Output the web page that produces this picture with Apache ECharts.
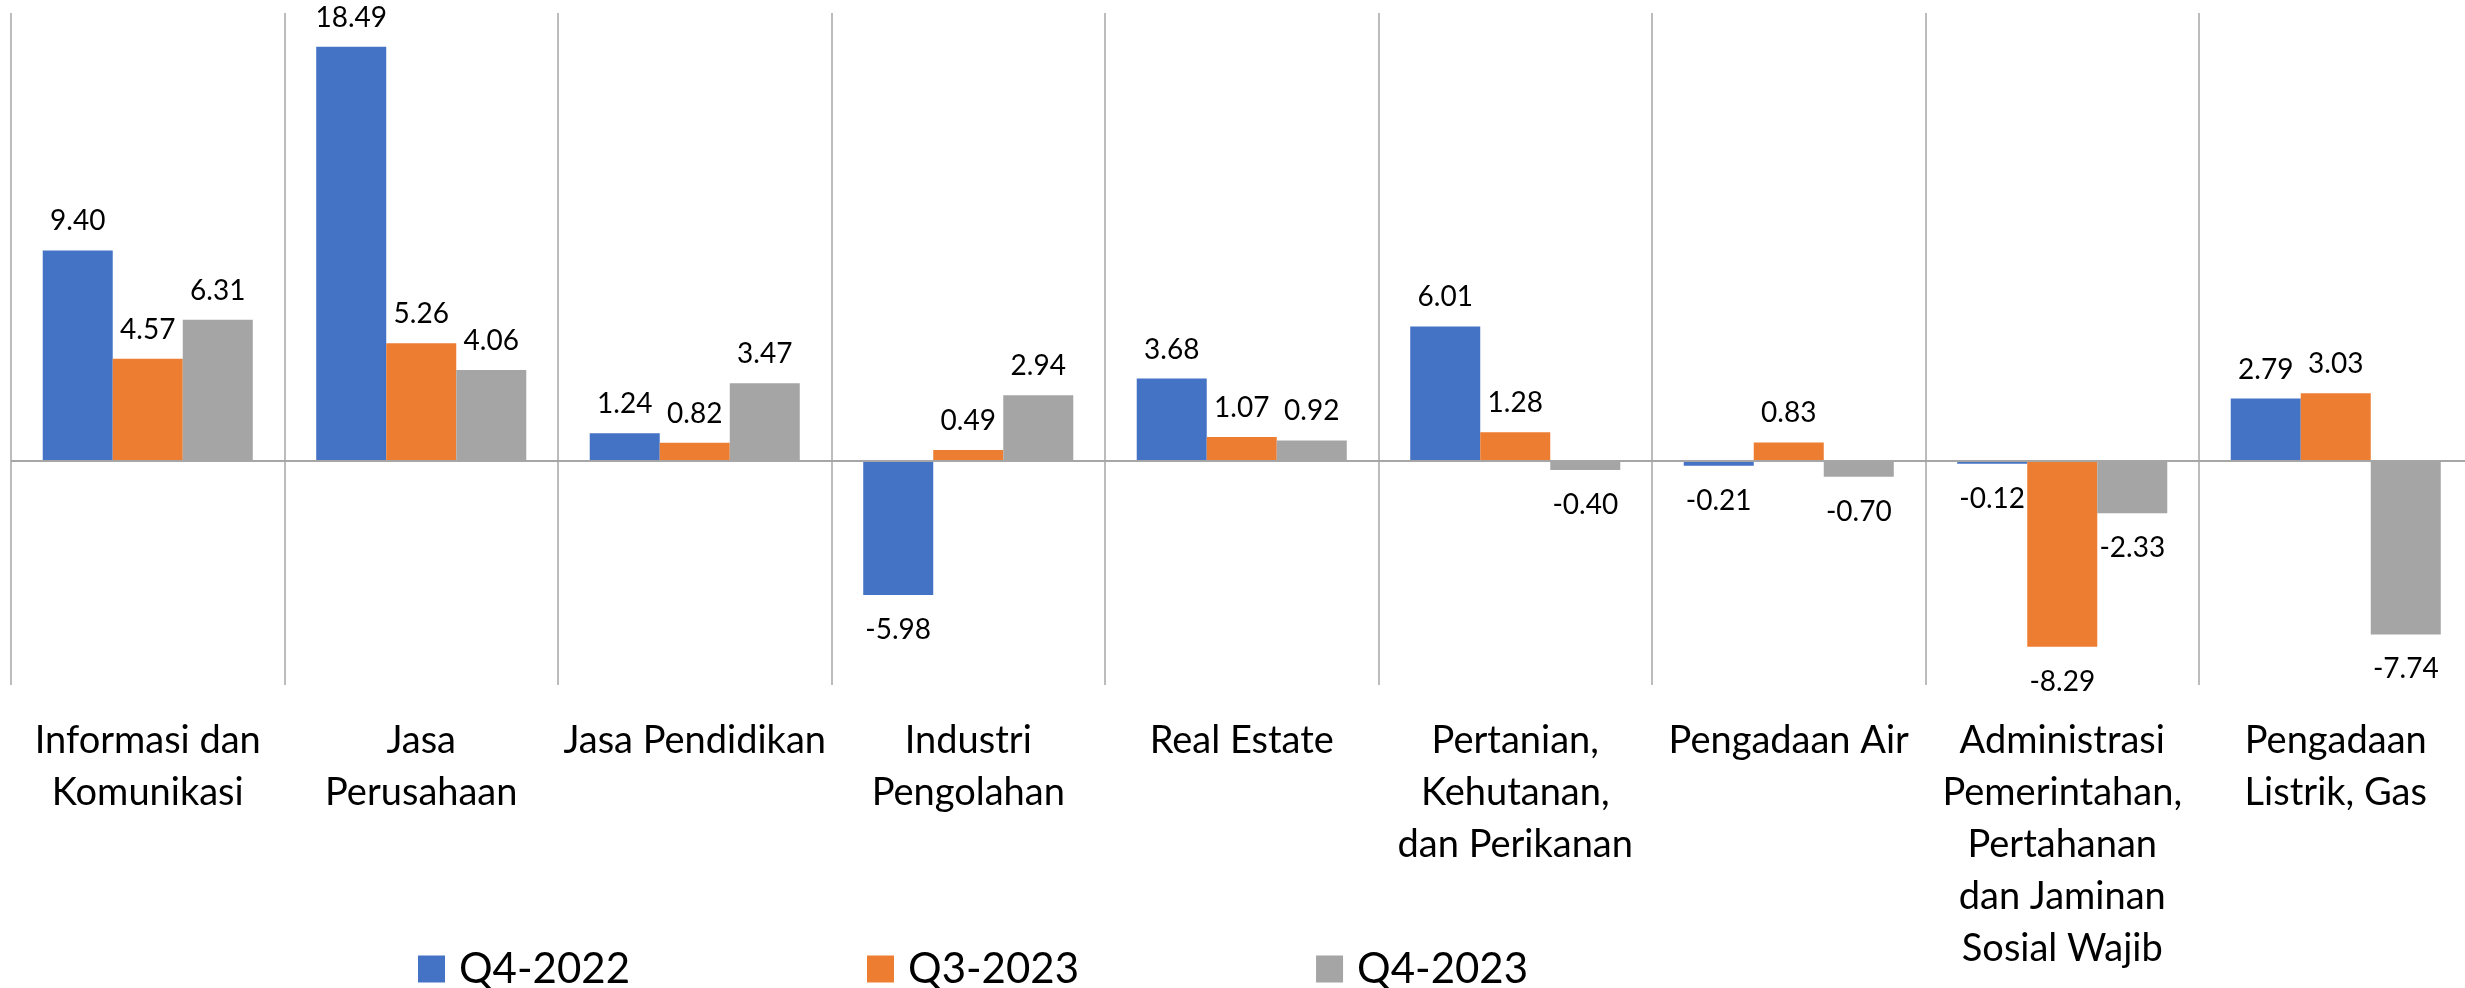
<!DOCTYPE html>
<html>
<head>
<meta charset="utf-8">
<script src="https://cdn.jsdelivr.net/npm/echarts@6/dist/echarts.min.js"></script>
<style>
html,body{margin:0;padding:0;background:#fff;}
#chart{width:2465px;height:988px;}
</style>
</head>
<body>
<div id="chart"></div>
<script>
const categories = [
  "Informasi dan\nKomunikasi",
  "Jasa\nPerusahaan",
  "Jasa Pendidikan",
  "Industri\nPengolahan",
  "Real Estate",
  "Pertanian,\nKehutanan,\ndan Perikanan",
  "Pengadaan Air",
  "Administrasi\nPemerintahan,\nPertahanan\ndan Jaminan\nSosial Wajib",
  "Pengadaan\nListrik, Gas"
];
const seriesNames = ["Q4-2022", "Q3-2023", "Q4-2023"];
const q4_2022 = [9.40, 18.49, 1.24, -5.98, 3.68, 6.01, -0.21, -0.12, 2.79];
const q3_2023 = [4.57, 5.26, 0.82, 0.49, 1.07, 1.28, 0.83, -8.29, 3.03];
const q4_2023 = [6.31, 4.06, 3.47, 2.94, 0.92, -0.40, -0.70, -2.33, -7.74];
const colors = ["#4472C4", "#ED7D31", "#A5A5A5"];

const FONT = "Lato, 'Open Sans', sans-serif";

function buildData(arr) {
  return arr.map(v => ({
    value: v,
    label: v < 0 ? { position: 'bottom', distance: 21 } : { position: 'top', distance: 15 }
  }));
}

const allSeries = [q4_2022, q3_2023, q4_2023].map((arr, i) => {
  const s = {
    name: seriesNames[i],
    type: 'bar',
    data: buildData(arr),
    barGap: '0%',
    barCategoryGap: '23.2%',
    itemStyle: { color: colors[i] },
    label: {
      show: true,
      color: '#000',
      fontFamily: FONT,
      fontSize: 28,
      formatter: p => p.value.toFixed(2)
    }
  };
  if (i === 0) {
    s.markLine = {
      silent: true,
      symbol: 'none',
      label: { show: false },
      lineStyle: { color: '#a6a6a6', width: 2, type: 'solid' },
      data: [{ yAxis: 0 }]
    };
  }
  return s;
});

const chart = echarts.init(document.getElementById('chart'), null, { renderer: 'canvas' });
chart.setOption({
  animation: false,
  color: colors,
  grid: { left: 11, top: 13, width: 2461.5, height: 672, containLabel: false, outerBoundsMode: 'none' },
  legend: {
    data: seriesNames,
    left: 418,
    top: 948,
    padding: 0,
    itemWidth: 27,
    itemHeight: 27,
    itemGap: 237,
    icon: 'rect',
    textStyle: { fontFamily: FONT, fontSize: 42, color: '#000', width: 164, padding: [0, 0, 0, 9] }
  },
  xAxis: {
    type: 'category',
    data: categories,
    axisLine: { show: false, onZero: false },
    axisTick: { show: false },
    splitLine: { show: true, interval: 0, lineStyle: { color: '#a6a6a6', width: 1.5 } },
    axisLabel: {
      interval: 0,
      margin: 30,
      color: '#000',
      fontFamily: FONT,
      fontSize: 38,
      lineHeight: 52
    }
  },
  yAxis: {
    type: 'value',
    min: -10,
    max: 20,
    interval: 10,
    show: false
  },
  series: allSeries
});
</script>
</body>
</html>
